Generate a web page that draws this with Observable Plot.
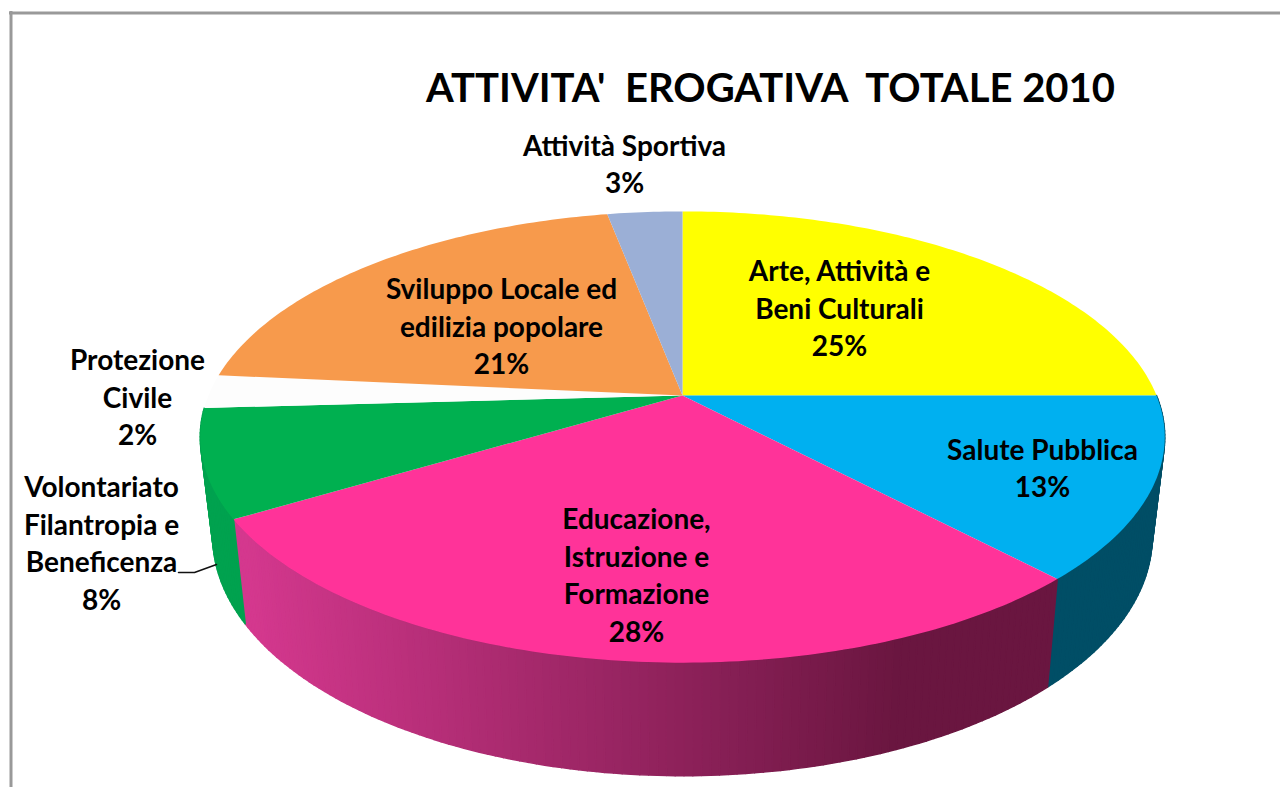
<!DOCTYPE html>
<html lang="it">
<head>
<meta charset="utf-8">
<title>Attività erogativa totale 2010</title>
<script src="https://cdn.jsdelivr.net/npm/d3@7"></script>
<script src="https://cdn.jsdelivr.net/npm/@observablehq/plot@0.6"></script>
<style>
  html, body { margin: 0; padding: 0; background: #fff; overflow: hidden; }
  svg { display: block; }
</style>
</head>
<body>
<div id="chart"></div>
<script>
// Data: clockwise from twelve o'clock
const categories = ["Arte, Attività e\nBeni Culturali", "Salute Pubblica", "Educazione,\nIstruzione e\nFormazione", "Volontariato\nFilantropia e\nBeneficenza", "Protezione\nCivile", "Sviluppo Locale ed\nedilizia popolare", "Attività Sportiva"];
const sliceValues = [25, 13, 28.4, 7.7, 2.4, 20.5, 3];   // angular share
const printedPercent = ["25%", "13%", "28%", "8%", "2%", "21%", "3%"];
const topColors = ["#ffff00", "#00b0f0", "#ff3399", "#00b050", "#fdfdfd", "#f79a4c", "#9bafd6"];
const sideColors = [null, "#004e66", "gradient", "#00a24f", null, null, null];
const chartTitle = "ATTIVITA'\u00A0 EROGATIVA\u00A0 TOTALE 2010";

// Layout of labels (annotation anchor of each label's centre)
const labelX = [839, 1042, 636, 101, 137, 501, 624];
const labelY = [310, 470, 577, 545, 399, 328, 166];

// Perspective model of the disc
const W = 1280, H = 787;
const cx = 682, cy = 395, R = 474, S = 218, k = 0.184;
const project = (turn, r = 1) => {
  const a = turn * 2 * Math.PI, px = r * Math.sin(a), py = r * Math.cos(a), d = 1 + k * py;
  return [cx + R * px / d, cy - S * py / d];
};
const projectBottom = (turn) => {
  const [x, y] = project(turn);
  return [cx + (x - cx) * 0.974, cy + 97 + (y - cy) * 1.06];
};

const total = d3.sum(sliceValues);
const ends = d3.cumsum(sliceValues).map(v => v / total);
const starts = [0, ...ends.slice(0, -1)];
const sideGradient = d3.interpolateRgb("#d4388e", "#6a1640");

const topPoints = [], sidePoints = [];
sliceValues.forEach((_, i) => {
  const n = Math.max(4, Math.ceil((ends[i] - starts[i]) * 400));
  topPoints.push({id: "t" + i, color: topColors[i], x: cx, y: cy});
  for (let j = 0; j <= n; j++) {
    const [x, y] = project(starts[i] + (ends[i] - starts[i]) * j / n);
    topPoints.push({id: "t" + i, color: topColors[i], x, y});
  }
  if (sideColors[i]) {
    for (let j = 0; j < n; j++) {
      const t0 = starts[i] + (ends[i] - starts[i]) * j / n;
      const t1 = starts[i] + (ends[i] - starts[i]) * (j + 1) / n;
      const [x0, y0] = project(t0), [x1, y1] = project(t1);
      const [bx0, by0] = projectBottom(t0), [bx1, by1] = projectBottom(t1);
      const color = sideColors[i] === "gradient"
        ? sideGradient(Math.max(0, Math.min(1, ((x0 + x1) / 2 - 243) / (900 - 243))))
        : sideColors[i];
      const id = `s${i}-${j}`;
      for (const [x, y] of [[x0, y0], [x1, y1], [bx1, by1], [bx0, by0]]) sidePoints.push({id, color, x, y});
    }
  }
});

const labels = categories.map((c, i) => ({text: c + "\n" + printedPercent[i], x: labelX[i], y: labelY[i]}));
const leader = [{x: 178, y: 572}, {x: 194, y: 572}, {x: 216, y: 564}];

const chart = Plot.plot({
  width: W, height: H,
  margin: 0,
  style: {background: "#fff"},
  x: {domain: [0, W], range: [0, W], axis: null},
  y: {domain: [0, H], range: [0, H], axis: null},
  color: {type: "identity"},
  marks: [
    Plot.ruleX([10.5], {y1: 11, y2: H, stroke: "#999", strokeWidth: 3}),
    Plot.ruleY([12.5], {x1: 9, x2: W, stroke: "#999", strokeWidth: 3}),
    Plot.line(sidePoints, {x: "x", y: "y", z: "id", fill: "color", stroke: "color", strokeWidth: 1.5, curve: "linear-closed"}),
    Plot.line(topPoints, {x: "x", y: "y", z: "id", fill: "color", stroke: "none", curve: "linear-closed"}),
    Plot.line(leader, {x: "x", y: "y", stroke: "#111", strokeWidth: 1.5}),
    Plot.text(labels, {x: "x", y: "y", dy: -4, text: "text", fontFamily: "Lato", fontWeight: 700, fontSize: 28, lineHeight: 1.34, fill: "#000", textAnchor: "middle"}),
    Plot.text([chartTitle], {x: 770, y: 88.5, fontFamily: "Lato", fontWeight: 700, fontSize: 40, fill: "#000", textAnchor: "middle"})
  ]
});
document.getElementById("chart").append(chart);
</script>
</body>
</html>
